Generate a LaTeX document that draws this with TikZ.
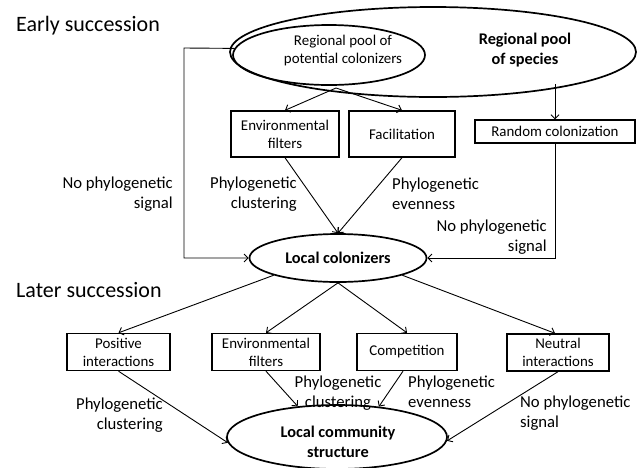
\documentclass[tikz,border=0pt]{standalone}
\usepackage{fontspec}
\setmainfont{Carlito}
\usetikzlibrary{arrows.meta,shapes.geometric,calc}
\newcommand\titfnt{\fontsize{22}{26}\selectfont}
\newcommand\boxfnt{\fontsize{14.9}{18}\selectfont}
\newcommand\labfnt{\fontsize{16.7}{20}\selectfont}
\newcommand\boldfnt{\fontsize{16.3}{20}\selectfont\bfseries}
\begin{document}
\begin{tikzpicture}[x=1pt,y=-1pt,
  box/.style={draw,line width=1.4pt,inner sep=0pt,align=center,font=\boxfnt},
  ell/.style={draw,ellipse,line width=1.7pt,inner sep=0pt},
  arr/.style={line width=0.9pt,-{Straight Barb[length=4pt,width=8pt]}},
  lab/.style={inner sep=0pt,font=\labfnt},
  ttl/.style={inner sep=0pt,anchor=west,font=\titfnt}]
\useasboundingbox (0,0) rectangle (640,467);

% titles
\node[ttl] (early) at (16,26) {Early succession};
\node[ttl] (later) at (16,290) {Later succession};

% regional pool
\node[ell, minimum width=406pt, minimum height=90pt] (pool) at (433,52) {};
\node[ell, minimum width=192pt, minimum height=60pt] (inner) at (329,55) {};
\node[inner sep=0pt, font=\boxfnt, align=center] (innertxt) at (343,51) {Regional pool of\\potential colonizers};
\node[inner sep=0pt, font=\boldfnt, align=center] (pooltxt) at (525,50) {Regional pool\\of species};

% early boxes
\node[box, minimum width=108pt, minimum height=46pt] (ef1) at (285,134) {Environmental\\filters};
\node[box, minimum width=106pt, minimum height=46pt] (fac) at (402,134) {Facilitation};
\node[box, minimum width=160pt, minimum height=23pt] (rand) at (555,131.5) {Random colonization};

% local colonizers
\node[ell, minimum width=177pt, minimum height=48pt, font=\boldfnt] (lc) at (338,258) {Local colonizers};

\coordinate (split) at (336,88);
\coordinate (cornerL) at (184,48);
\coordinate (poolR) at (555,84);

\draw[arr] (split) -- (ef1.north);
\draw[arr] (split) -- (fac.north);
\draw[arr] (poolR) -- (rand.north);
\draw[arr] (ef1.south) -- (lc.north);
\draw[arr] (fac.south) -- (lc.north);
\draw[arr] (inner.176) -- (cornerL) |- (lc.west);
\draw[arr] (rand.south) |- (lc.east);

% early labels
\node[lab, anchor=east, align=right] (l1) at (173,194) {No phylogenetic\\signal};
\node[lab, anchor=east, align=right] (l2) at (297,194) {Phylogenetic\\clustering};
\node[lab, anchor=west, align=left] (l3) at (392,194) {Phylogenetic\\evenness};
\node[lab, anchor=east, align=right] (l4) at (547,237) {No phylogenetic\\signal};

% later boxes
\node[box, minimum width=103pt, minimum height=37pt] (pos) at (118.5,352) {Positive\\interactions};
\node[box, minimum width=108pt, minimum height=37pt] (ef2) at (266,352) {Environmental\\filters};
\node[box, minimum width=100pt, minimum height=37pt] (comp) at (407,352) {Competition};
\node[box, minimum width=102pt, minimum height=37pt] (neut) at (558,352.5) {Neutral\\interactions};

% local community structure
\node[ell, minimum width=220pt, minimum height=64pt] (lcs) at (337,437) {};
\node[inner sep=0pt, font=\boldfnt, align=center] (lcstxt) at (338,442) {Local community\\structure};

\draw[arr] (lc.195) -- (pos.north);
\draw[arr] (lc.south) -- (ef2.north);
\draw[arr] (lc.south) -- (comp.north);
\draw[arr] (lc.345) -- ($(neut.north)+(-3,0)$);

\draw[arr] (pos.south) -- (lcs.183);
\draw[arr] (ef2.south) -- (lcs.142);
\draw[arr] ($(comp.south)+(-4,0)$) -- (lcs.36);
\draw[arr] (neut.south) -- (lcs.358);

% later labels
\node[lab, anchor=east, align=right] (l5) at (163,415) {Phylogenetic\\clustering};
\node[lab, align=center] (l6) at (338,393) {Phylogenetic\\clustering};
\node[lab, anchor=west, align=left] (l7) at (408,392) {Phylogenetic\\evenness};
\node[lab, anchor=west, align=left] (l8) at (520,413) {No phylogenetic\\signal};
\end{tikzpicture}
\end{document}
